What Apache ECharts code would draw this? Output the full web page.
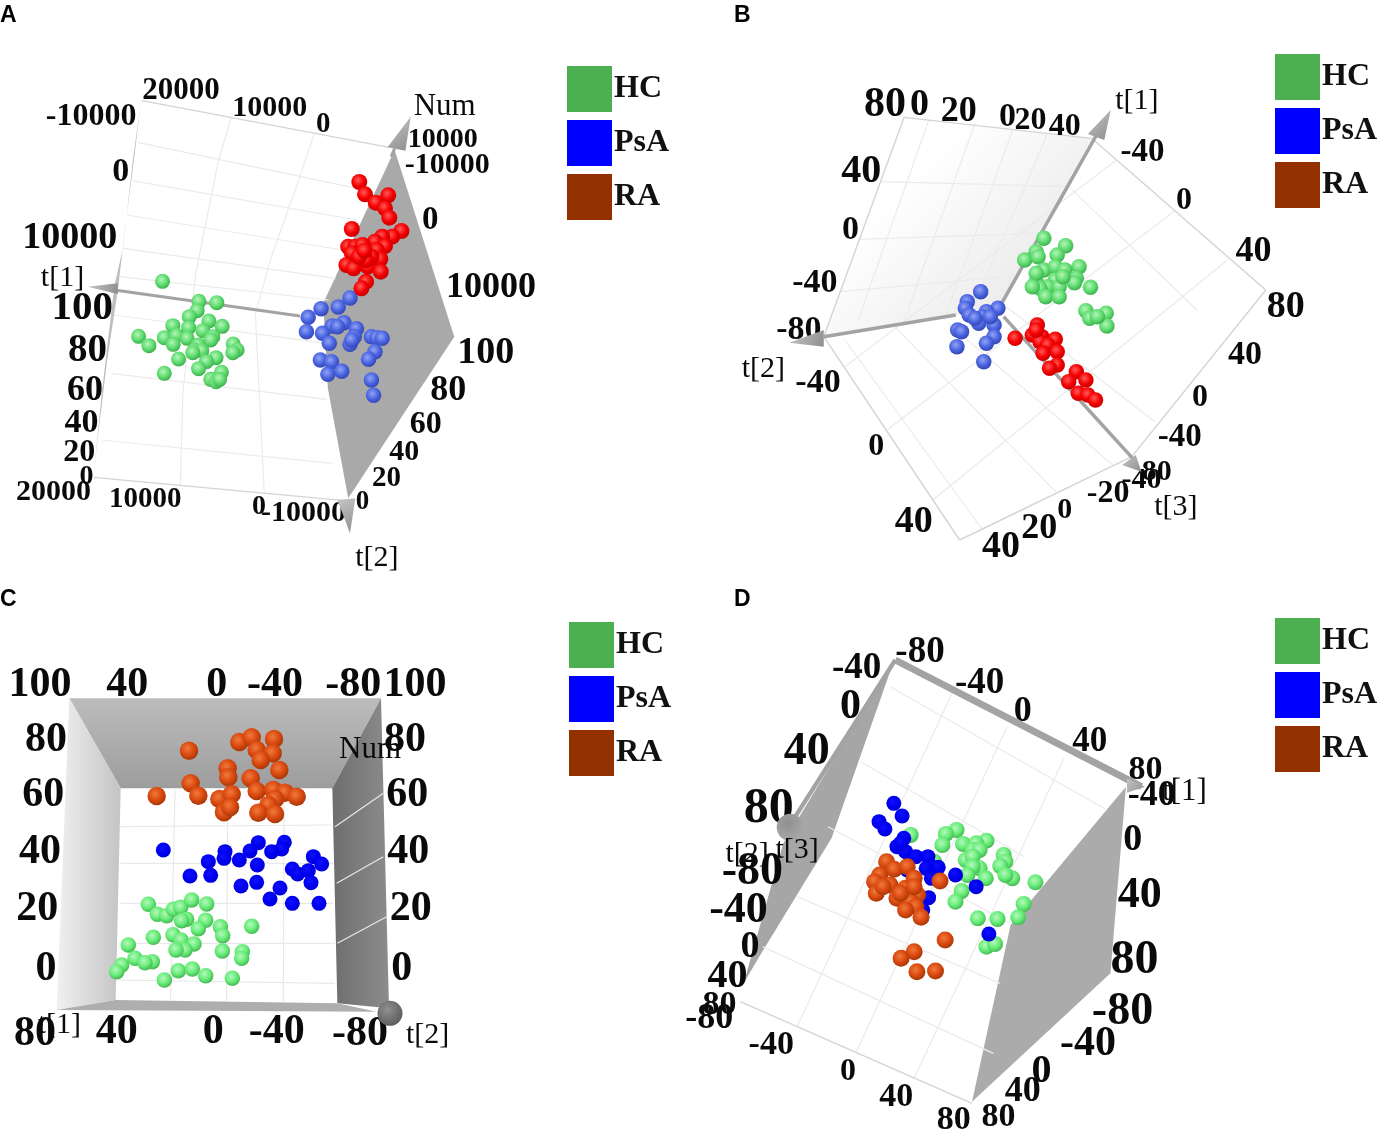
<!DOCTYPE html>
<html><head><meta charset="utf-8">
<style>html,body{margin:0;padding:0;background:#fff}#c{width:1385px;height:1136px}</style>
<script src="https://cdn.jsdelivr.net/npm/echarts@6/dist/echarts.min.js"></script>
</head><body><div id="c"></div>
<script>
// ---------- DATA: projected score positions, per panel ----------
const groups = ['HC','PsA','RA'];
const hcA = [[455,664],[557,724],[607,728],[552,752],[530,770],[585,783],[622,799],[484,797],[528,803],[568,812],[388,829],[417,857],[460,833],[494,826],[524,835],[596,830],[485,853],[590,840],[555,855],[545,870],[565,872],[540,878],[653,852],[664,870],[652,878],[500,897],[605,893],[578,905],[556,926],[460,940],[620,937],[590,958],[605,965],[615,958]];
const psaA = [[980,714],[947,741],[899,746],[863,772],[858,815],[963,788],[930,798],[998,806],[903,820],[922,850],[992,830],[980,853],[1040,830],[1055,833],[1070,835],[1050,875],[1032,898],[897,900],[928,905],[918,943],[957,934],[1040,960],[1046,1006],[945,800],[985,840]];
const raA = [[1006,366],[1022,403],[1087,406],[1052,428],[1078,445],[1090,473],[985,507],[1124,513],[1098,530],[1070,530],[1050,545],[1078,558],[975,560],[995,560],[1015,555],[1055,570],[985,580],[1065,597],[1040,590],[970,615],[1010,610],[990,625],[1030,620],[1066,635],[1025,665],[1012,685],[1025,600],[1005,590],[1020,572]];
const hcB = [[820,535],[877,557],[855,585],[800,575],[770,600],[805,590],[912,620],[820,630],[850,620],[875,630],[905,655],[800,665],[850,660],[830,680],[860,680],[942,682],[810,685],[900,668],[825,710],[860,710],[800,640],[930,752],[983,760],[940,775],[985,798],[960,770],[870,650],[790,680]];
const psaB = [[655,695],[620,725],[615,745],[700,745],[670,755],[625,765],[660,770],[650,790],[690,795],[595,810],[605,815],[690,830],[670,850],[593,860],[663,905],[680,770],[640,775]];
const raB = [[803,795],[745,835],[790,825],[815,830],[850,838],[810,845],[830,855],[855,875],[818,880],[855,915],[835,925],[905,935],[930,960],[885,965],[910,1000],[935,1005],[955,1020],[800,810]];
const hcC = [[445,763],[472,793],[500,797],[520,778],[542,772],[575,750],[620,762],[560,808],[545,812],[617,811],[595,836],[661,830],[755,829],[668,857],[519,854],[460,862],[543,870],[582,882],[385,885],[555,900],[528,900],[667,903],[727,905],[725,925],[405,925],[457,935],[435,938],[365,945],[350,965],[535,962],[577,957],[617,977],[493,990],[697,985]];
const psaC = [[490,600],[675,605],[672,625],[625,635],[718,630],[750,603],[775,578],[853,577],[845,597],[815,605],[772,645],[940,620],[965,642],[877,657],[893,672],[925,662],[933,698],[770,697],[723,708],[840,714],[810,747],[877,760],[957,760],[632,676],[570,678]];
const raC = [[567,302],[718,276],[755,262],[822,267],[770,300],[818,310],[782,330],[838,360],[683,355],[685,382],[752,385],[572,400],[595,437],[470,438],[658,447],[695,433],[770,423],[820,420],[855,428],[890,440],[825,447],[805,465],[775,488],[825,492],[672,487],[690,472]];
const hcD = [[670,615],[803,600],[772,612],[762,645],[822,642],[890,632],[860,640],[850,660],[870,660],[940,675],[830,690],[850,680],[945,695],[930,708],[870,715],[850,710],[965,745],[945,735],[888,745],[835,735],[1032,757],[818,783],[800,815],[998,822],[865,865],[922,867],[982,862],[890,950],[915,942],[738,695]];
const psaD = [[621,520],[645,558],[578,575],[595,597],[650,625],[630,650],[655,665],[640,640],[685,680],[720,680],[730,710],[750,712],[715,715],[730,745],[800,735],[860,770],[722,803],[897,912],[660,720],[705,840]];
const raD = [[600,695],[622,718],[660,710],[580,735],[565,755],[680,745],[610,765],[655,775],[755,753],[570,790],[630,805],[690,795],[670,815],[685,830],[655,840],[700,862],[770,930],[680,965],[642,985],[688,1025],[742,1023],[590,770],[640,790],[680,770]];

// ---------- TICK LABELS AND AXIS NAMES ----------
const ticksA = ['20000','-10000','10000','0','10000','-10000','0','10000','100','80','60','40','20','0','20000','10000','0','-10000','0','20','40','60','80','100','10000','0'];
const namesA = ['Num','t[1]','t[2]'];
const ticksB = ['80','0','20','0','20','40','-40','0','40','80','40','0','-40','-40','80','-20','0','20','40','40','0','-40','-80','-40','0','40'];
const namesB = ['t[1]','t[3]','t[2]'];
const ticksC = ['100','40','0','-40','-80','100','80','80','60','60','40','40','20','20','0','0','80','40','0','-40','-80'];
const namesC = ['Num','t[1]','t[2]'];
const ticksD = ['-80','-40','-40','0','0','40','80','-40','40','80','-80','-40','0','40','80','-80','-40','0','40','80','80','40','0','-40','-80','80','40','0'];
const namesD = ['t[1]','t[2]','t[3]'];
const panelLetters = ['A','B','C','D'];

// ---------- LAYOUT ----------
const F = '"Liberation Serif","Times New Roman",serif';
const tickPos = {
 A:[[507,88,31],[255,165,32],[755,138,30],[905,187,29],[1240,232,28],[1252,310,30],[338,330,34],[195,530,38],[230,740,41],[245,868,39],[238,985,36],[228,1085,34],[222,1172,32],[242,1245,28],[150,1292,30],[407,1313,29],[725,1335,28],[850,1355,30],[1015,1320,27],[1082,1250,29],[1132,1172,30],[1192,1088,32],[1255,985,36],[1360,875,38],[1375,678,36],[1205,475,33]],
 B:[[405,128,42],[495,130,38],[598,150,36],[725,165,34],[785,175,32],[875,195,32],[1078,270,33],[1186,415,32],[1368,570,36],[1452,735,38],[1346,880,34],[1228,1008,32],[1175,1125,33],[1075,1255,30],[1115,1230,30],[988,1295,32],[875,1345,30],[808,1400,36],[708,1455,38],[480,1380,38],[382,1155,32],[230,965,34],[180,805,34],[222,665,34],[315,505,34],[343,328,40]],
 C:[[120,100,42],[382,98,42],[650,100,42],[825,100,42],[1060,100,42],[1245,100,42],[138,265,42],[1215,265,42],[130,430,42],[1222,430,42],[120,600,42],[1225,600,42],[112,770,42],[1232,770,42],[138,950,42],[1205,950,42],[105,1145,42],[350,1140,42],[640,1140,42],[830,1140,42],[1080,1145,42]],
 D:[[697,60,37],[513,110,37],[870,155,37],[495,225,42],[995,240,36],[1190,330,35],[1352,415,34],[1370,490,36],[368,360,46],[258,530,50],[210,720,46],[170,835,44],[203,945,38],[138,1035,40],[115,1120,34],[85,1160,36],[265,1240,34],[488,1318,32],[628,1395,34],[795,1465,34],[925,1455,34],[995,1380,36],[1050,1320,40],[1185,1235,42],[1285,1140,46],[1320,985,48],[1335,790,44],[1315,625,38]]
};
const namePos = {
 A:[[1245,135,31],[175,648,30],[1055,1487,30]],
 B:[[1063,118,30],[1165,1335,30],[87,920,30]],
 C:[[1110,293,31],[178,1120,30],[1283,1150,30]],
 D:[[1465,480,31],[195,665,30],[340,655,30]]
};
const TEXT_DY = 6;
const G = echarts.graphic;
const lin = (x1,y1,x2,y2,a,b)=>new G.LinearGradient(x1,y1,x2,y2,[{offset:0,color:a},{offset:1,color:b}]);
const ball = (hi,mid,lo)=>new G.RadialGradient(.42,.38,.62,[{offset:0,color:hi},{offset:.6,color:mid},{offset:1,color:lo}]);
const walls = {
 A:[{p:[[1105,270],[1272,830],[975,1315],[918,985],[905,730]],c:'#a9a9a9'},
    {p:[[395,125],[375,300],[352,490],[330,690],[300,900],[272,1150],[262,1250],[285,1000],[320,680],[345,560],[372,300]],c:'#bdbdbd'}],
 B:[{p:[[455,172],[945,235],[710,730],[590,765],[245,830]],c:lin(.3,.3,.85,.95,'#ffffff','#e6e6e6')}],
 C:[{p:[[208,145],[1143,145],[997,415],[362,415]],c:lin(0,0,0,1,'#bcbcbc','#9d9d9d')},
    {p:[[208,145],[362,415],[347,1050],[170,1080]],c:lin(0,0,1,0,'#f0f0f0','#c4c4c4')},
    {p:[[1143,145],[1167,1075],[1012,1060],[997,415]],c:lin(0,0,1,0,'#6e6e6e','#8c8c8c')},
    {p:[[347,1050],[1012,1060],[1130,1085],[170,1080]],c:'#aeaeae'}],
 D:[{p:[[1295,470],[1250,1030],[848,1415],[960,885]],c:'#ababab'},
    {p:[[622,90],[440,625],[230,980],[185,1060],[300,640]],c:'#a6a6a6'}]
};
const LIGHT='#ebebeb', EDGE='#d4d4d4';
const lines = {
 A:[[[648,172],[612,300],[548,640],[512,1000],[505,1275]],[[880,222],[840,350],[760,590],[715,760],[740,1300]],
    [[385,247],[1000,385]],[[370,362],[1000,480]],[[355,465],[960,570]],[[345,565],[940,655]],[[335,650],[920,720]],[[320,765],[915,850]],[[310,940],[915,1018]],[[285,1140],[930,1210]]],
 B:[[[395,365],[890,380]],[[335,538],[800,520]],[[290,695],[720,650]],[[520,178],[335,780]],[[640,190],[450,800]],[[740,205],[560,780]],[[830,220],[640,730]],
    [[1010,300],[300,920]],[[1165,450],[410,1110]],[[1300,600],[530,1320]],[[890,385],[1220,750]],[[710,730],[1110,1085]],[[430,800],[855,1300]],[[300,840],[660,1410]],[[570,790],[1000,1215]]],
 D:[[[790,190],[340,1190]],[[950,290],[510,1270]],[[1115,385],[680,1345]],[[610,170],[1240,540]],[[525,395],[1000,680]],[[430,590],[960,880]],[[340,800],[930,1060]],[[240,950],[910,1270]]]
};
const gridC = [[[525,415],[512,1050]],[[683,415],[680,1055]],[[852,415],[850,1055]],[[362,530],[997,525]],[[362,640],[1000,640]],[[362,760],[1000,760]],[[362,880],[1005,880]],[[347,990],[1005,1000]],[[1012,880],[1160,800]],[[1010,700],[1150,620]],[[1005,530],[1150,430]]];
const edges = {
 A:[[[397,122],[1090,262]],[[262,1252],[965,1322]]],
 B:[[[455,172],[945,235]],[[455,172],[245,830]],[[945,235],[1400,690]],[[1400,690],[1050,1190]],[[245,830],[600,1440]],[[600,1440],[1050,1190]]],
 C:[],
 D:[[[175,1115],[848,1420]]]
};
const axes = {
 A:[{p:[[320,690],[840,768]],w:2},{p:[[1105,265],[1095,290]],w:2}],
 B:[{p:[[710,730],[960,220]],w:2.5},{p:[[590,765],[245,830]],w:2.5},{p:[[715,770],[1060,1205]],w:2.5}],
 C:[],
 D:[{p:[[625,90],[1340,470]],w:5},{p:[[625,90],[310,600]],w:3}]
};
const cones = {
 A:[[[245,680],[330,670],[330,702]],[[1150,170],[1085,262],[1135,272]],[[980,1420],[945,1320],[995,1315]]],
 B:[[[995,150],[935,222],[978,240]],[[155,848],[245,810],[245,860]],[[1075,1235],[1025,1215],[1060,1185]]],
 C:[],
 D:[[[1350,470],[1298,445],[1298,488]]]
};
const knobs = {C:[[1170,1090,25,'#5a5a5a']], D:[[320,592,27,'#a8a8a8']]};
const panels = [
 {k:'A',left:0,top:60,w:560,h:510,sx:2.8,data:[hcA,psaA,raA],d:[15,15.5,16],
  col:[ball('#b4f5ba','#5fdc6f','#3fb04f'),ball('#93a3f5','#4a64e0','#3447b5'),ball('#ff5a5a','#f50000','#c80000')],lg:[567,66]},
 {k:'B',left:730,top:60,w:600,h:510,sx:2.613,data:[hcB,psaB,raB],d:[15.5,15.5,15.5],
  col:[ball('#b4f5ba','#5fdc6f','#3fb04f'),ball('#93a3f5','#4a64e0','#3447b5'),ball('#ff5a5a','#f50000','#c80000')],lg:[1275,54]},
 {k:'C',left:0,top:650,w:460,h:420,sx:3,data:[hcC,psaC,raC],d:[15.5,15,18.5],
  col:[ball('#b5f8bd','#66ec77','#46b955'),ball('#1010ff','#0000f0','#0000d8'),ball('#f07a3c','#d9480f','#a83808')],lg:[569,622]},
 {k:'D',left:680,top:630,w:540,h:506,sx:2.904,data:[hcD,psaD,raD],d:[16,15,17],
  col:[ball('#b5f8bd','#66ec77','#46b955'),ball('#1010ff','#0000f0','#0000d8'),ball('#f07a3c','#d9480f','#a83808')],lg:[1275,618]}
];
const SY = 3;
const ticks = {A:ticksA,B:ticksB,C:ticksC,D:ticksD};
const names = {A:namesA,B:namesB,C:namesC,D:namesD};
const legendColors = ['#4caf50','#0000ff','#933000'];
const letterPos = [[0,4],[734,4],[0,588],[734,588]];

// ---------- OPTION ----------
const option = {animation:false,backgroundColor:'#fff',grid:[],xAxis:[],yAxis:[],series:[],legend:[],
 title:panelLetters.map((t,i)=>({text:t,left:letterPos[i][0],top:letterPos[i][1],padding:0,
   textStyle:{fontFamily:'"Liberation Sans",Arial,sans-serif',fontWeight:'bold',fontSize:23,color:'#000'}}))};

function shapeSeries(i,z,items,render){
  return {type:'custom',coordinateSystem:'cartesian2d',xAxisIndex:i,yAxisIndex:i,z,silent:true,clip:false,
    data:items.map(()=>[0,0]),renderItem:(params,api)=>render(items[params.dataIndex],api)};
}
const poly=(it,api)=>({type:'polygon',shape:{points:it.p.map(q=>api.coord(q))},style:{fill:it.c}});
const stroke=(color,width)=>(pts,api)=>({type:'polyline',shape:{points:pts.map(q=>api.coord(q))},style:{stroke:color,lineWidth:width,fill:null}});
const label=(weight)=>(it,api)=>{const c=api.coord([it[1],it[2]+TEXT_DY]);
  return {type:'text',style:{x:c[0],y:c[1],text:it[0],font:weight+' '+it[3]+'px '+F,fill:'#0a0a0a',
    align:'center',verticalAlign:'middle',textAlign:'center',textVerticalAlign:'middle'}};};

panels.forEach((P,i)=>{
  const k=P.k;
  option.grid.push({left:P.left,top:P.top,width:P.w,height:P.h,containLabel:false});
  option.xAxis.push({type:'value',gridIndex:i,min:0,max:P.w*P.sx,show:false});
  option.yAxis.push({type:'value',gridIndex:i,min:0,max:P.h*SY,inverse:true,show:false});
  option.series.push(shapeSeries(i,1,walls[k],poly));
  option.series.push(shapeSeries(i,1,k==='C'?gridC:lines[k],stroke(k==='C'?'#e9e9e9':LIGHT,1.2)));
  option.series.push(shapeSeries(i,1,edges[k],stroke(EDGE,1.4)));
  const tickItems=ticks[k].map((t,j)=>[t,tickPos[k][j][0],tickPos[k][j][1],tickPos[k][j][2]]);
  option.series.push(shapeSeries(i,2,tickItems,label('bold')));
  const nameItems=names[k].map((t,j)=>[t,namePos[k][j][0],namePos[k][j][1],namePos[k][j][2]]);
  option.series.push(shapeSeries(i,3,axes[k],(it,api)=>({type:'line',shape:{x1:api.coord(it.p[0])[0],y1:api.coord(it.p[0])[1],x2:api.coord(it.p[1])[0],y2:api.coord(it.p[1])[1]},style:{stroke:'#a3a3a3',lineWidth:it.w*1.4}})));
  option.series.push(shapeSeries(i,3,cones[k],(pts,api)=>({type:'polygon',shape:{points:pts.map(q=>api.coord(q))},style:{fill:lin(0,0,1,1,'#c6c6c6','#8e8e8e')}})));
  if(knobs[k]) option.series.push(shapeSeries(i,3,knobs[k],(it,api)=>{const c=api.coord([it[0],it[1]]);
     return {type:'circle',shape:{cx:c[0],cy:c[1],r:it[2]/2},style:{fill:new G.RadialGradient(.4,.35,.7,[{offset:0,color:'#909090'},{offset:1,color:it[3]}])}};}));
  option.series.push(shapeSeries(i,7,nameItems,label('normal')));
  groups.forEach((g,j)=>{
    option.series.push({type:'scatter',name:g,xAxisIndex:i,yAxisIndex:i,z:4+j,clip:false,silent:true,
      symbol:'circle',symbolSize:P.d[j],data:P.data[j],itemStyle:{color:P.col[j],opacity:1}});
  });
  option.legend.push({left:P.lg[0],top:P.lg[1],orient:'vertical',padding:0,itemGap:8,itemWidth:45,itemHeight:46,icon:'rect',selectedMode:false,
    data:groups.map((g,j)=>({name:g,icon:'rect',itemStyle:{color:legendColors[j]}})),
    textStyle:{fontFamily:F,fontWeight:'bold',fontSize:32,color:'#111',padding:[0,0,12,-3]}});
});
const chart=echarts.init(document.getElementById('c'),null,{renderer:'canvas'});
chart.setOption(option);
</script>
</body></html>
